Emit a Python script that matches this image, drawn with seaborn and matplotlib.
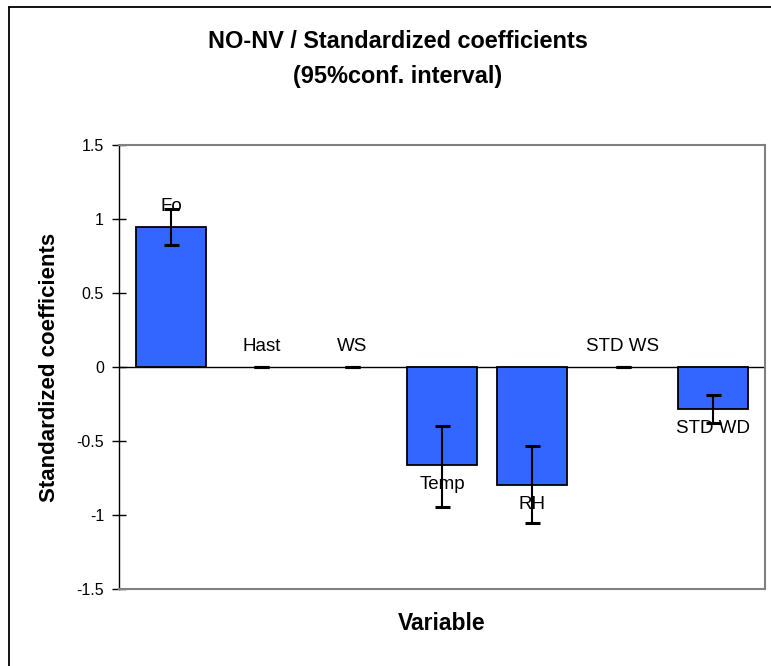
import matplotlib
matplotlib.use("Agg")
import matplotlib.pyplot as plt
from matplotlib.lines import Line2D
import numpy as np
import pandas as pd
import seaborn as sns

# Standardized coefficients with 95% confidence bounds
categories = ["Fo", "Hast", "WS", "Temp", "RH", "STD WS", "STD WD"]
coef = [0.944, 0.0, 0.0, -0.664, -0.800, 0.0, -0.286]
ci_low = [0.822, 0.0, 0.0, -0.948, -1.056, 0.0, -0.380]
ci_high = [1.066, 0.0, 0.0, -0.397, -0.532, 0.0, -0.191]
ytick_values = [-1.5, -1, -0.5, 0, 0.5, 1, 1.5]
ytick_labels = ["-1.5", "-1", "-0.5", "0", "0.5", "1", "1.5"]

sns.set_theme(style="white")
plt.rcParams["font.family"] = ["Liberation Sans", "DejaVu Sans"]
plt.rcParams["text.color"] = "black"
plt.rcParams["axes.labelcolor"] = "black"
plt.rcParams["ytick.color"] = "black"
plt.rcParams["xtick.color"] = "black"

W, H = 771, 666
fig = plt.figure(figsize=(W / 100, H / 100), dpi=100)
ax = fig.add_axes([119 / W, 1 - 589 / H, 646 / W, 444 / H])

df = pd.DataFrame({"Variable": categories, "Coefficient": coef})
sns.barplot(data=df, x="Variable", y="Coefficient", color="#3366FF",
            saturation=1, width=0.775, edgecolor="black", linewidth=1.3,
            errorbar=None, ax=ax, zorder=2)
for p in ax.patches:
    if p.get_height() == 0:
        p.set_linewidth(0)

ax.axhline(0, color="black", lw=1, zorder=1)

c = np.array(coef)
yerr = np.vstack([c - np.array(ci_low), np.array(ci_high) - c])
ax.errorbar(np.arange(len(categories)), c, yerr=yerr, fmt="none",
            ecolor="black", elinewidth=1.5, capsize=5.4, capthick=2.2, zorder=3)

# Variable names next to each bar
for i, (name, v) in enumerate(zip(categories, coef)):
    if v >= 0:
        ax.annotate(name, (i, v), xytext=(0, 15), textcoords="offset points",
                    ha="center", va="center", fontsize=13.5, color="black", zorder=4)
    else:
        ax.annotate(name, (i, v), xytext=(0, -13.5), textcoords="offset points",
                    ha="center", va="center", fontsize=13.5, color="black", zorder=4)

ax.set_xlim(-0.575, len(categories) - 1 + 0.575)
ax.set_ylim(-1.5, 1.5)
ax.set_yticks(ytick_values)
ax.set_yticklabels(ytick_labels, fontsize=11.5, color="black")
ax.tick_params(axis="y", direction="inout", length=9.5, width=1, color="black",
               pad=6, left=True)
ax.tick_params(axis="x", bottom=False, labelbottom=False)

for side in ["top", "right", "bottom"]:
    ax.spines[side].set_color("#808080")
    ax.spines[side].set_linewidth(1.5)
ax.spines["left"].set_color("black")
ax.spines["left"].set_linewidth(1)

ax.set_ylabel("Standardized coefficients", fontsize=16, fontweight="bold",
              va="center", color="black")
ax.yaxis.set_label_coords((50 - 119) / 646, 0.5)
ax.set_xlabel("Variable", fontsize=16.5, fontweight="bold", va="center", color="black")
ax.xaxis.set_label_coords(0.5, (589 - 624) / 444)

fig.text(398 / W, 1 - 41 / H, "NO-NV / Standardized coefficients",
         ha="center", va="center", fontsize=16.9, fontweight="bold", color="black")
fig.text(398 / W, 1 - 76 / H, "(95%conf. interval)",
         ha="center", va="center", fontsize=16.9, fontweight="bold", color="black")

# Chart frame (left and top edges)
fig.add_artist(Line2D([9 / W, 9 / W], [0, 1 - 7 / H], color="black", lw=1.3,
                      transform=fig.transFigure))
fig.add_artist(Line2D([9 / W, 1], [1 - 7 / H, 1 - 7 / H], color="black", lw=1.3,
                      transform=fig.transFigure))

fig.savefig("out.png", dpi=100, facecolor="white")
